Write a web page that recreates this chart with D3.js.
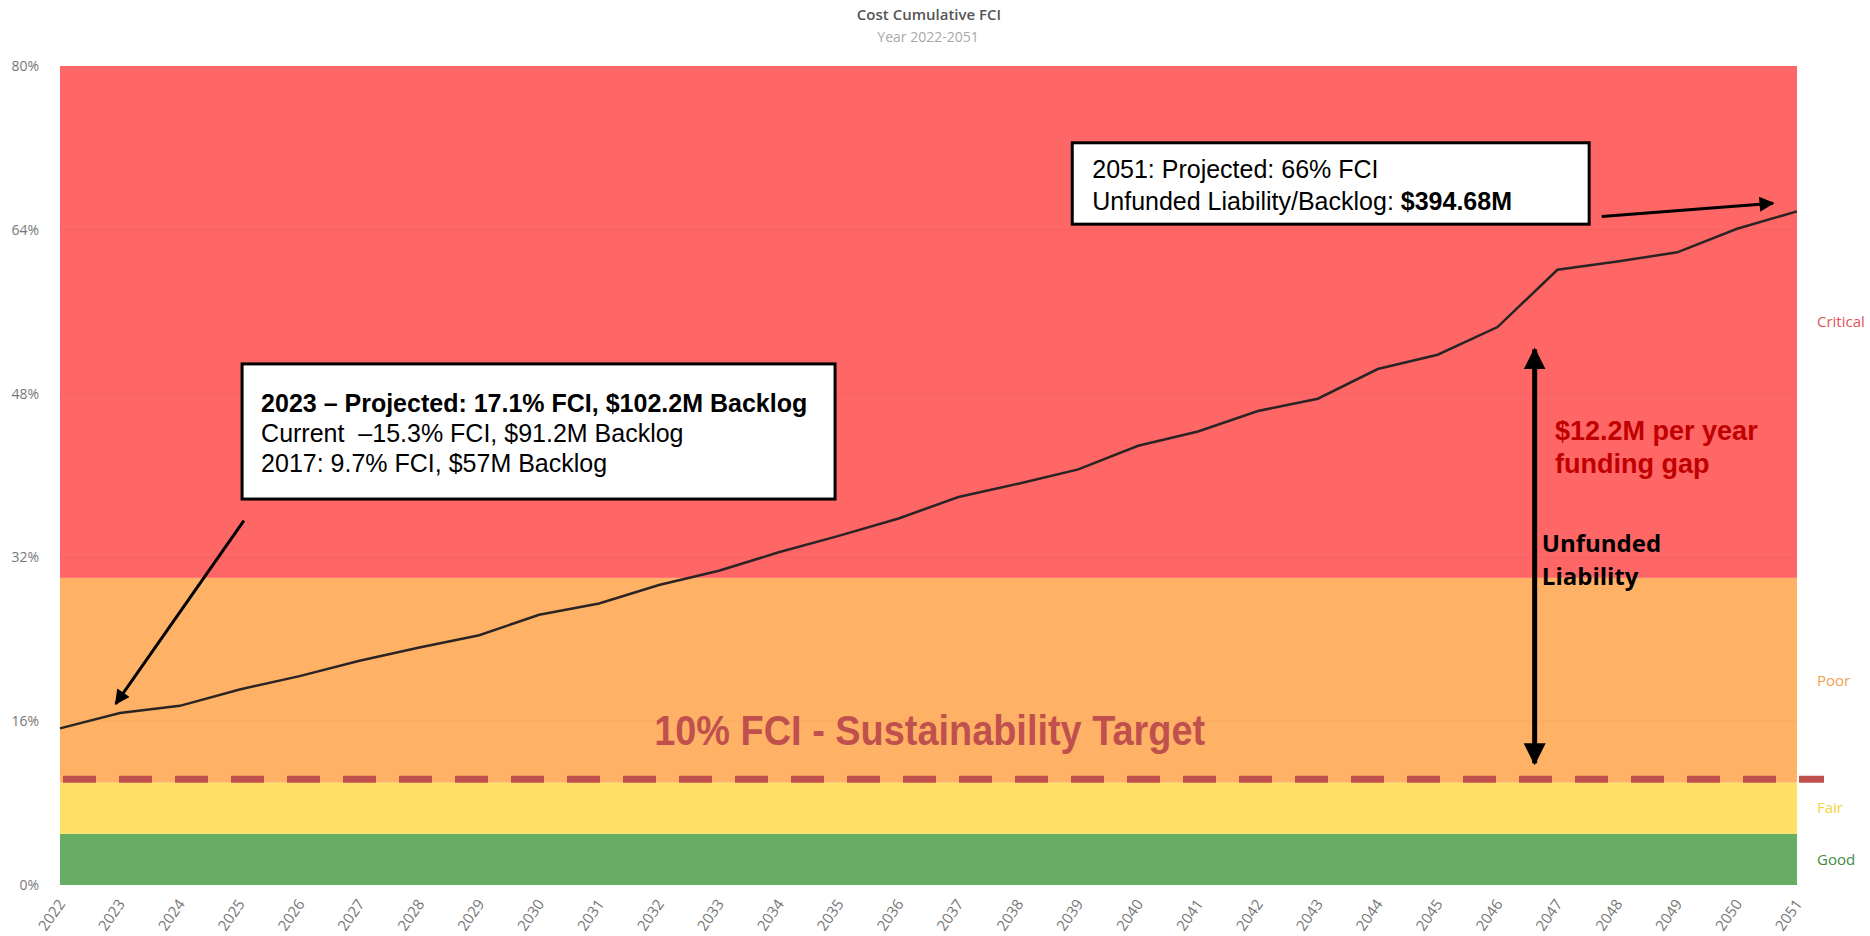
<!DOCTYPE html>
<html>
<head>
	<meta charset="utf-8">
	<script src="https://d3js.org/d3.v7.min.js"></script>
	<title>Cost Cumulative FCI</title>
	<style>
		body { margin: 0; background: #fff; }
	</style>
</head>
<body>
<script type="text/javascript">

	var years = [2022, 2023, 2024, 2025, 2026, 2027, 2028, 2029, 2030, 2031,
	             2032, 2033, 2034, 2035, 2036, 2037, 2038, 2039, 2040, 2041,
	             2042, 2043, 2044, 2045, 2046, 2047, 2048, 2049, 2050, 2051];
	var fci = [15.3, 16.8, 17.5, 19.1, 20.4, 21.9, 23.2, 24.4, 26.4, 27.5,
	           29.3, 30.7, 32.5, 34.1, 35.8, 37.9, 39.2, 40.6, 42.9, 44.3,
	           46.3, 47.5, 50.4, 51.8, 54.5, 60.1, 60.9, 61.8, 64.1, 65.8];
	var yTicks = [0, 16, 32, 48, 64, 80];
	var bandNames = ["Good", "Fair", "Poor", "Critical"];
	var bandLimits = [[0, 5], [5, 10], [10, 30], [30, 80]];
	var targetFci = 10;

	var bandFill = { Good: "#66ad63", Fair: "#ffdf66", Poor: "#ffb266", Critical: "#ff6666" };
	var bandText = { Good: "#3f8a3f", Fair: "#f3d340", Poor: "#f0a252", Critical: "#e5525c" };

	var w = 1870;
	var h = 936;
	var margin = { top: 66, bottom: 51, left: 60, right: 73 };
	var width = w - margin.left - margin.right;
	var height = h - margin.top - margin.bottom;

	var svg = d3.select("body").append("svg")
		.attr("width", w)
		.attr("height", h);

	var x = d3.scaleLinear()
		.domain([years[0], years[years.length - 1]])
		.range([margin.left, margin.left + width]);

	var y = d3.scaleLinear()
		.domain([0, 80])
		.range([margin.top + height, margin.top]);

	// titel
	svg.append("text")
		.attr("x", 929).attr("y", 20)
		.attr("text-anchor", "middle")
		.attr("font-family", "Open Sans, sans-serif")
		.attr("font-weight", 600)
		.attr("font-size", 15)
		.attr("fill", "#555")
		.text("Cost Cumulative FCI");
	svg.append("text")
		.attr("x", 928).attr("y", 42)
		.attr("text-anchor", "middle")
		.attr("font-family", "Open Sans, sans-serif")
		.attr("font-size", 14)
		.attr("fill", "#a8a8a8")
		.text("Year 2022-2051");

	// farbige Zonen
	var bands = bandNames.map(function(n, i) { return { name: n, lo: bandLimits[i][0], hi: bandLimits[i][1] }; });

	svg.append("g").selectAll("rect")
		.data(bands)
		.enter().append("rect")
		.attr("x", x.range()[0])
		.attr("width", width)
		.attr("y", function(d) { return y(d.hi); })
		.attr("height", function(d) { return y(d.lo) - y(d.hi); })
		.attr("fill", function(d) { return bandFill[d.name]; });

	svg.append("g").selectAll("text")
		.data(bands)
		.enter().append("text")
		.attr("x", x.range()[1] + 20)
		.attr("y", function(d) { return y((d.lo + d.hi) / 2); })
		.attr("dy", "0.35em")
		.attr("font-family", "Open Sans, sans-serif")
		.attr("font-size", 15)
		.attr("fill", function(d) { return bandText[d.name]; })
		.text(function(d) { return d.name; });

	// gridlines
	svg.append("g").selectAll("line")
		.data(yTicks.slice(1, -1))
		.enter().append("line")
		.attr("x1", x.range()[0]).attr("x2", x.range()[1])
		.attr("y1", function(d) { return y(d); })
		.attr("y2", function(d) { return y(d); })
		.attr("stroke", "rgba(0,0,0,0.045)");

	// achsen
	var yAxis = svg.append("g")
		.attr("transform", "translate(" + margin.left + ",0)")
		.call(d3.axisLeft(y).tickValues(yTicks).tickFormat(function(d) { return d + "%"; }).tickSize(0).tickPadding(21));
	yAxis.select(".domain").remove();
	yAxis.selectAll("text")
		.attr("font-family", "Open Sans, sans-serif")
		.attr("font-size", 14)
		.attr("fill", "#777");

	var xAxis = svg.append("g")
		.attr("transform", "translate(0," + (margin.top + height) + ")")
		.call(d3.axisBottom(x).tickValues(years).tickFormat(d3.format("d")).tickSize(0));
	xAxis.select(".domain").remove();
	xAxis.selectAll("text")
		.attr("x", 0).attr("y", 0).attr("dy", "0.35em")
		.attr("text-anchor", "end")
		.attr("transform", "translate(1,16) rotate(-55)")
		.attr("font-family", "Open Sans, sans-serif")
		.attr("font-size", 15)
		.attr("fill", "#777");

	// 10% Ziel
	svg.append("line")
		.attr("x1", x.range()[0] + 3).attr("x2", x.range()[1] + 27)
		.attr("y1", y(targetFci) - 3.5).attr("y2", y(targetFci) - 3.5)
		.attr("stroke", "#c0504d")
		.attr("stroke-width", 7)
		.attr("stroke-dasharray", "33,23");

	svg.append("text")
		.attr("x", x(2036.52)).attr("y", y(13.67))
		.attr("text-anchor", "middle")
		.attr("font-family", "Liberation Sans, Arial, sans-serif")
		.attr("font-weight", "bold")
		.attr("font-size", 42)
		.attr("textLength", 551)
		.attr("lengthAdjust", "spacingAndGlyphs")
		.attr("fill", "#c0504d")
		.text("10% FCI - Sustainability Target");

	// linie
	var line = d3.line()
		.x(function(d, i) { return x(years[i]); })
		.y(function(d) { return y(d); });

	svg.append("path")
		.datum(fci)
		.attr("d", line)
		.attr("fill", "none")
		.attr("stroke", "#2a2424")
		.attr("stroke-width", 2.5);

	// pfeile
	var defs = svg.append("defs");
	defs.append("marker")
		.attr("id", "head")
		.attr("viewBox", "0 0 10 10")
		.attr("refX", 9).attr("refY", 5)
		.attr("markerWidth", 6).attr("markerHeight", 5)
		.attr("markerUnits", "strokeWidth")
		.attr("orient", "auto-start-reverse")
		.append("path").attr("d", "M0,0L10,5L0,10Z").attr("fill", "#000");
	defs.append("marker")
		.attr("id", "bighead")
		.attr("viewBox", "0 0 10 10")
		.attr("refX", 9).attr("refY", 5)
		.attr("markerWidth", 4.4).attr("markerHeight", 5)
		.attr("markerUnits", "strokeWidth")
		.attr("orient", "auto-start-reverse")
		.append("path").attr("d", "M0,0L10,5L0,10Z").attr("fill", "#000");

	svg.append("line")
		.attr("x1", x(2025.07)).attr("y1", y(35.6))
		.attr("x2", x(2022.93)).attr("y2", y(17.7))
		.attr("stroke", "#000").attr("stroke-width", 3)
		.attr("marker-end", "url(#head)");

	svg.append("line")
		.attr("x1", x(2047.74)).attr("y1", y(65.3))
		.attr("x2", x(2050.6)).attr("y2", y(66.6))
		.attr("stroke", "#000").attr("stroke-width", 3)
		.attr("marker-end", "url(#head)");

	svg.append("line")
		.attr("x1", x(2046.62)).attr("y1", y(52.3))
		.attr("x2", x(2046.62)).attr("y2", y(11.9))
		.attr("stroke", "#000").attr("stroke-width", 5)
		.attr("marker-start", "url(#bighead)")
		.attr("marker-end", "url(#bighead)");

	// textboxen
	function box(x0, y0, x1, y1) {
		svg.append("rect")
			.attr("x", x(x0)).attr("y", y(y0))
			.attr("width", x(x1) - x(x0))
			.attr("height", y(y1) - y(y0))
			.attr("fill", "#fff")
			.attr("stroke", "#000")
			.attr("stroke-width", 3);
	}

	box(2025.04, 50.9, 2034.94, 37.7);
	var t1 = svg.append("text")
		.attr("font-family", "Liberation Sans, Arial, sans-serif")
		.attr("font-size", 25)
		.attr("fill", "#000");
	t1.append("tspan").attr("x", x(2025.04) + 19).attr("y", y(50.9) + 48)
		.attr("font-weight", "bold")
		.text("2023 \u2013 Projected: 17.1% FCI, $102.2M Backlog");
	t1.append("tspan").attr("x", x(2025.04) + 19).attr("dy", 30)
		.text("Current \u00a0\u201315.3% FCI, $91.2M Backlog");
	t1.append("tspan").attr("x", x(2025.04) + 19).attr("dy", 30)
		.text("2017: 9.7% FCI, $57M Backlog");

	box(2038.9, 72.5, 2047.53, 64.55);
	var t2 = svg.append("text")
		.attr("font-family", "Liberation Sans, Arial, sans-serif")
		.attr("font-size", 25)
		.attr("fill", "#000");
	t2.append("tspan").attr("x", x(2038.9) + 20).attr("y", y(72.5) + 35)
		.text("2051: Projected: 66% FCI");
	t2.append("tspan").attr("x", x(2038.9) + 20).attr("dy", 32)
		.text("Unfunded Liability/Backlog: ");
	t2.append("tspan").attr("font-weight", "bold")
		.text("$394.68M");

	var gap = svg.append("text")
		.attr("font-family", "Liberation Sans, Arial, sans-serif")
		.attr("font-weight", "bold")
		.attr("font-size", 27)
		.attr("fill", "#c00000");
	gap.append("tspan").attr("x", x(2046.96)).attr("y", y(43.46)).text("$12.2M per year");
	gap.append("tspan").attr("x", x(2046.96)).attr("dy", 33).text("funding gap");

	var ul = svg.append("text")
		.attr("font-family", "Open Sans, sans-serif")
		.attr("font-weight", "bold")
		.attr("font-size", 24)
		.attr("fill", "#000");
	ul.append("tspan").attr("x", x(2046.74)).attr("y", y(32.55)).text("Unfunded");
	ul.append("tspan").attr("x", x(2046.74)).attr("dy", 33).text("Liability");

</script>
</body>
</html>
